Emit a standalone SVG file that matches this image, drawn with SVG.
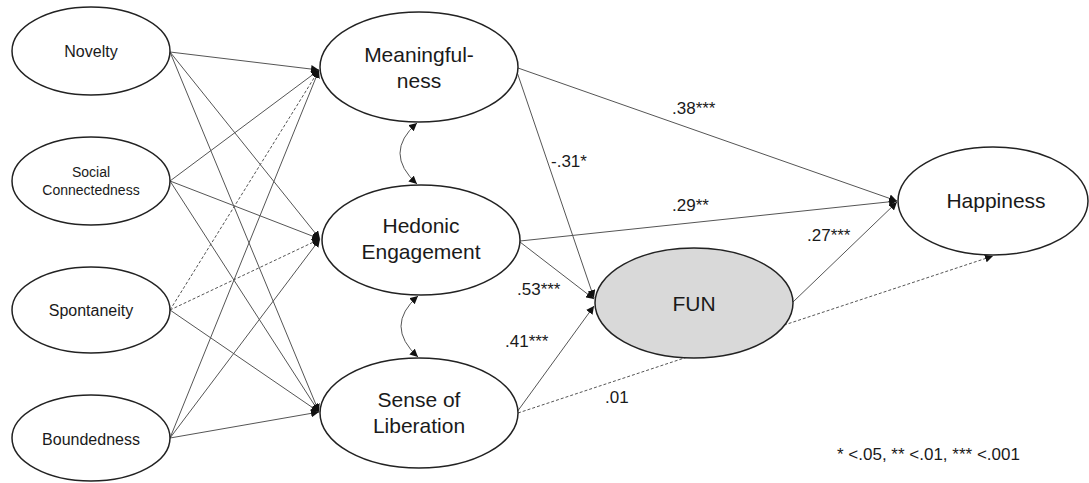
<svg xmlns="http://www.w3.org/2000/svg" width="1089" height="483" viewBox="0 0 1089 483">
<defs>
<marker id="arr" viewBox="0 0 8 8" refX="8" refY="4" markerWidth="8" markerHeight="8" markerUnits="userSpaceOnUse" orient="auto-start-reverse">
<path d="M0,0 L8,4 L0,8 z" fill="#111"/>
</marker>
<style>
.n{fill:#fff;stroke:#222;stroke-width:1.5}
.fun{fill:#d9d9d9;stroke:#222;stroke-width:1.5}
.c{stroke:#555;stroke-width:1;fill:none}
.d{stroke:#555;stroke-width:1;fill:none;stroke-dasharray:3,2}
text{font-family:"Liberation Sans",Arial,sans-serif;fill:#1a1a1a}
.t16{font-size:16px;text-anchor:middle}
.t14{font-size:14px;text-anchor:middle}
.t21{font-size:21px;text-anchor:middle}
.lab{font-size:17px}
</style>
</defs>
<g id="connectors">
<line class="c" x1="170" y1="52" x2="319" y2="70" marker-end="url(#arr)"/>
<line class="c" x1="170" y1="52" x2="320" y2="239" marker-end="url(#arr)"/>
<line class="c" x1="170" y1="52" x2="319" y2="412" marker-end="url(#arr)"/>
<line class="c" x1="170" y1="181" x2="319" y2="70" marker-end="url(#arr)"/>
<line class="c" x1="170" y1="181" x2="320" y2="239" marker-end="url(#arr)"/>
<line class="c" x1="170" y1="181" x2="319" y2="412" marker-end="url(#arr)"/>
<line class="d" x1="170" y1="310" x2="319" y2="70" marker-end="url(#arr)"/>
<line class="d" x1="170" y1="310" x2="320" y2="239" marker-end="url(#arr)"/>
<line class="c" x1="170" y1="310" x2="319" y2="412" marker-end="url(#arr)"/>
<line class="c" x1="170" y1="438" x2="319" y2="70" marker-end="url(#arr)"/>
<line class="c" x1="170" y1="438" x2="320" y2="239" marker-end="url(#arr)"/>
<line class="c" x1="170" y1="438" x2="319" y2="412" marker-end="url(#arr)"/>
<path class="c" d="M417,123 Q383,153 417,184" marker-start="url(#arr)" marker-end="url(#arr)"/>
<path class="c" d="M418,296 Q384,326 418,357" marker-start="url(#arr)" marker-end="url(#arr)"/>
<line class="c" x1="518" y1="68" x2="897" y2="201" marker-end="url(#arr)"/>
<line class="c" x1="517" y1="72" x2="594" y2="298" marker-end="url(#arr)"/>
<line class="c" x1="520" y1="241" x2="897" y2="201" marker-end="url(#arr)"/>
<line class="c" x1="520" y1="242" x2="594" y2="299" marker-end="url(#arr)"/>
<line class="c" x1="517" y1="412" x2="594" y2="306" marker-end="url(#arr)"/>
<line class="d" x1="518" y1="413" x2="993" y2="256" marker-end="url(#arr)"/>
<line class="c" x1="793" y1="302" x2="897" y2="202" marker-end="url(#arr)"/>
</g>
<g id="novelty"><ellipse class="n" cx="91" cy="51" rx="79" ry="44"/><text class="t16" x="91" y="57">Novelty</text></g>
<g id="social"><ellipse class="n" cx="91" cy="181" rx="79" ry="44"/><text class="t14" x="91" y="177">Social</text><text class="t14" x="91" y="195">Connectedness</text></g>
<g id="spontaneity"><ellipse class="n" cx="91" cy="310" rx="79" ry="43"/><text class="t16" x="91" y="316">Spontaneity</text></g>
<g id="boundedness"><ellipse class="n" cx="91" cy="438" rx="79" ry="43"/><text class="t16" x="91" y="445">Boundedness</text></g>
<g id="meaningfulness"><ellipse class="n" cx="419" cy="67" rx="99" ry="55"/><text class="t21" x="419" y="62">Meaningful-</text><text class="t21" x="419" y="88">ness</text></g>
<g id="hedonic"><ellipse class="n" cx="421" cy="240" rx="99" ry="55"/><text class="t21" x="421" y="233">Hedonic</text><text class="t21" x="421" y="259">Engagement</text></g>
<g id="liberation"><ellipse class="n" cx="419" cy="413" rx="99" ry="55"/><text class="t21" x="419" y="407">Sense of</text><text class="t21" x="419" y="433">Liberation</text></g>
<g id="fun"><ellipse class="fun" cx="694" cy="303" rx="99" ry="55"/><text class="t21" x="694" y="311">FUN</text></g>
<g id="happiness"><ellipse class="n" cx="993" cy="201" rx="95" ry="54"/><text class="t21" x="996" y="208">Happiness</text></g>
<g id="labels">
<text class="lab" x="672" y="114">.38***</text>
<text class="lab" x="551" y="167">-.31*</text>
<text class="lab" x="672" y="211">.29**</text>
<text class="lab" x="807" y="241">.27***</text>
<text class="lab" x="517" y="295">.53***</text>
<text class="lab" x="505" y="347">.41***</text>
<text class="lab" x="605" y="403">.01</text>
<text x="837" y="460" style="font-size:17px">* &lt;.05, ** &lt;.01, *** &lt;.001</text>
</g>
</svg>
